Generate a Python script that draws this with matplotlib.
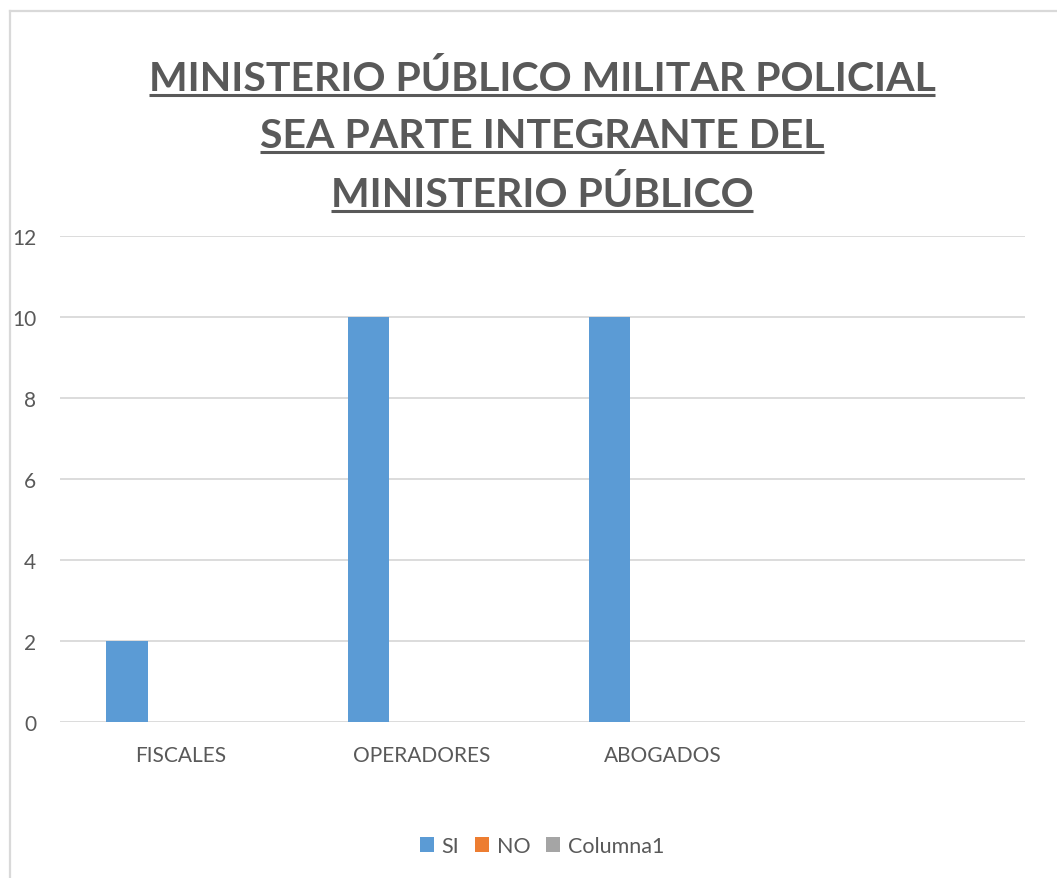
import matplotlib
matplotlib.use("Agg")
import matplotlib.pyplot as plt
import numpy as np
from matplotlib.lines import Line2D
from matplotlib.patches import Patch

# ---- data ----
categories = ["FISCALES", "OPERADORES", "ABOGADOS", ""]
series_names = ["SI", "NO", "Columna1"]
si_values = [2, 10, 10, np.nan]
no_values = [0, 0, 0, np.nan]
col1_values = [np.nan, np.nan, np.nan, np.nan]
y_ticks = [0, 2, 4, 6, 8, 10, 12]
title_lines = ["MINISTERIO PÚBLICO MILITAR POLICIAL",
               "SEA PARTE INTEGRANTE DEL",
               "MINISTERIO PÚBLICO"]

colors = ["#5B9BD5", "#ED7D31", "#A5A5A5"]
txt = "#595959"
grid = "#D9D9D9"

W, H = 1057, 879
plt.rcParams['font.family'] = ['Lato', 'DejaVu Sans']
fig = plt.figure(figsize=(W / 100, H / 100), dpi=100)
fig.patch.set_facecolor("white")

# chart-area border (left and top)
fig.add_artist(Line2D([9.5 / W, 9.5 / W], [0, 1 - 11.5 / H], transform=fig.transFigure,
                      color=grid, lw=1.6))
fig.add_artist(Line2D([9.5 / W, 1], [1 - 11.5 / H, 1 - 11.5 / H], transform=fig.transFigure,
                      color=grid, lw=1.6))

ax = fig.add_axes([60 / W, 1 - 723.3 / H, 965 / W, (723.3 - 236.7) / H])
x = np.arange(len(categories))
width = 0.1725
offsets = [-0.222, 0.0, 0.222]
for vals, off, c, name in zip([si_values, no_values, col1_values], offsets, colors, series_names):
    ax.bar(x + off, vals, width=width, color=c, label=name, linewidth=0, zorder=3)

ax.set_xlim(-0.5, len(categories) - 0.5)
ax.set_ylim(0, 12)
ax.set_yticks(y_ticks)
ax.set_xticks(x)
ax.set_xticklabels(categories)
for s in ax.spines.values():
    s.set_visible(False)
ax.yaxis.grid(True, color=grid, lw=1.3, zorder=0)
ax.set_axisbelow(True)
ax.tick_params(axis='y', length=0, pad=17, labelsize=15, labelcolor=txt)
ax.tick_params(axis='x', length=0, pad=16, labelsize=15, labelcolor=txt)

# title with underlines
fig.canvas.draw()
renderer = fig.canvas.get_renderer()
baselines = [91, 148, 207]
target_w = 789
t0 = fig.text(0.5, 0.5, title_lines[0], fontsize=30, fontweight='bold')
w0 = t0.get_window_extent(renderer).width
t0.remove()
fs = 30 * target_w / w0
for line, b in zip(title_lines, baselines):
    t = fig.text(542 / W, 1 - b / H, line, fontsize=fs, fontweight='bold', color=txt,
                 ha='center', va='baseline')
    bb = t.get_window_extent(renderer)
    yl = 1 - (b + 5) / H
    fig.add_artist(Line2D([bb.x0 / W, bb.x1 / W], [yl, yl], transform=fig.transFigure,
                          color=txt, lw=2.2, solid_capstyle='butt'))

handles = [Patch(facecolor=c, edgecolor='none') for c in colors]
leg = fig.legend(handles, series_names, loc='center', bbox_to_anchor=(542 / W, 1 - 847 / H),
                 ncol=3, frameon=False, fontsize=15.5, handlelength=0.65, handleheight=0.65,
                 handletextpad=0.35, columnspacing=0.75, labelcolor=txt)

fig.savefig("out.png", dpi=100, facecolor="white")
